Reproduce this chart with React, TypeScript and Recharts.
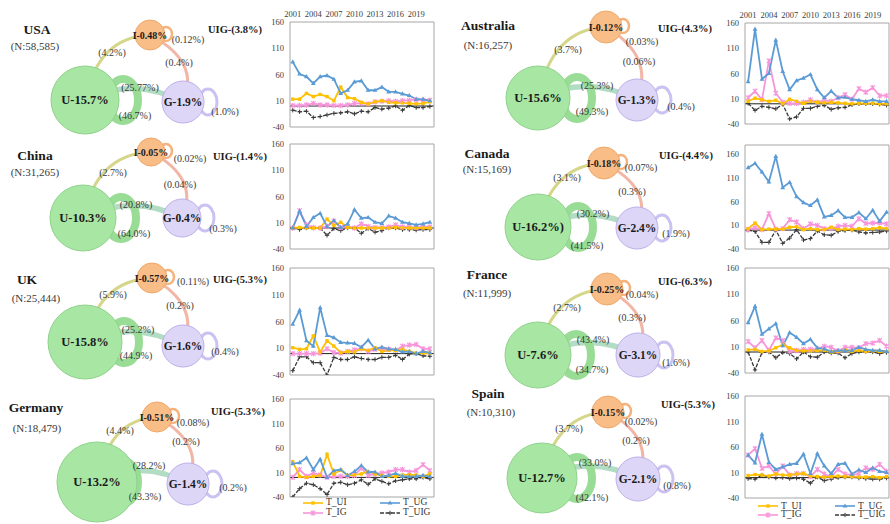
import React from "react";
import {
  LineChart,
  Line,
  XAxis,
  YAxis,
  ReferenceLine,
  Legend,
  ScatterChart,
  Scatter,
} from "recharts";

const serif = "'Liberation Serif', 'Times New Roman', serif";
const frame = "#a6a6a6";

const years = [
  2001, 2002, 2003, 2004, 2005, 2006, 2007, 2008, 2009, 2010, 2011, 2012, 2013,
  2014, 2015, 2016, 2017, 2018, 2019, 2020, 2021,
];
const yearTicks = [2001, 2004, 2007, 2010, 2013, 2016, 2019];
const valueTicks = [-40, 10, 60, 110, 160];

// network diagram values
const countries = ["USA", "China", "UK", "Germany", "Australia", "Canada", "France", "Spain"];
const sampleSizes = ["58,585", "31,265", "25,444", "18,479", "16,257", "15,169", "11,999", "10,310"];
const shareU = ["15.7%", "10.3%", "15.8%", "13.2%", "15.6%", "16.2%)", "7.6%", "12.7%"];
const shareI = ["0.48%", "0.05%", "0.57%", "0.51%", "0.12%", "0.18%", "0.25%", "0.15%"];
const shareG = ["1.9%", "0.4%", "1.6%", "1.4%", "1.3%", "2.4%", "3.1%", "2.1%"];
const shareUIG = ["3.8%", "1.4%", "5.3%", "5.3%", "4.3%", "4.4%", "6.3%", "5.3%"];
const linkUI = ["4.2%", "2.7%", "5.9%", "4.4%", "3.7%", "3.1%", "2.7%", "3.7%"];
const linkIG = ["0.4%", "0.04%", "0.2%", "0.2%", "0.06%", "0.3%", "0.3%", "0.2%"];
const linkUG = ["25.77%", "20.8%", "25.2%", "28.2%", "25.3%", "30.2%", "43.4%", "33.0%"];
const loopU = ["46.7%", "64.0%", "44.9%", "43.3%", "49.3%", "41.5%", "34.7%", "42.1%"];
const loopI = ["0.12%", "0.02%", "0.11%", "0.08%", "0.03%", "0.07%", "0.04%", "0.02%"];
const loopG = ["1.0%", "0.3%", "0.4%", "0.2%", "0.4%", "1.9%", "1.6%", "0.8%"];

// yearly series
const usaUI = [13, 13, 24, 18, 22, 18, 10, 36, 16, 14, 7, 4, 8, 10, 7, 6, 6, 5, 4, 5, 8];
const usaUG = [84, 61, 56, 43, 56, 58, 51, 24, 30, 46, 48, 30, 30, 36, 27, 27, 23, 20, 13, 13, 10];
const usaIG = [1, 1, 2, 5, 2, 2, 1, 1, 2, 5, 5, 4, 8, 9, 10, 9, 10, 11, 12, 11, 11];
const usaUIG = [-8, -11, -10, -22, -20, -17, -14, -13, -11, -15, -10, -11, -3, -6, -4, 0, -8, 1, -3, -3, -1];

const chinaUI = [0, 1, 0, 0, 0, 17, 5, 11, 1, 0, 0, 0, 0, 0, 0, 1, 0, 0, 0, 0, 0];
const chinaUG = [0, 32, 3, 20, 28, 3, 14, 1, 8, 35, 19, 20, 11, 9, 23, 19, 11, 9, 6, 8, 11];
const chinaIG = [0, 33, 6, 1, 0, 3, 13, 1, 3, 0, 8, 3, 1, 1, 2, 6, 2, 2, 1, 2, 2];
const chinaUIG = [0, -3, 0, 0, 0, -14, -1, -5, 0, 0, -10, -1, -8, -5, 0, 0, -3, -3, -4, -3, -3];

const ukUI = [11, 8, 9, 33, 3, 24, 14, 2, 4, 3, 9, 6, 11, 4, 6, 6, 8, 4, 1, 1, 1];
const ukUG = [55, 81, 24, 14, 86, 34, 30, 21, 20, 19, 12, 25, 9, 12, 9, 8, 3, 4, 0, 4, 2];
const ukIG = [0, 0, 0, 0, 1, 9, 2, 1, 4, 7, 9, 4, 8, 9, 8, 6, 14, 16, 17, 9, 9];
const ukUIG = [-32, -6, -6, -17, -17, -40, -7, -11, -11, -6, -9, -11, -11, -7, -7, -3, -11, -1, 0, -4, -5];

const germanyUI = [32, 2, 0, 2, 4, 47, 7, 15, 4, 5, 7, 12, 7, 4, 2, 2, 5, 5, 5, 2, 7];
const germanyUG = [28, 30, 40, 16, 37, 0, 14, 16, 4, 12, 24, 11, 11, 2, 4, 8, 2, 2, 2, 4, 2];
const germanyIG = [0, 16, 2, 9, 5, 0, 2, 2, 2, 4, 19, 4, 7, 9, 11, 16, 16, 11, 14, 26, 14];
const germanyUIG = [-40, -23, -12, -15, -23, -35, -12, -10, -15, -12, -5, -14, -3, -8, -13, -7, -5, -3, -3, 0, -3];

const australiaUI = [5, 11, 8, 5, 7, 0, 9, 5, 1, 5, 3, 2, 3, 2, 1, 0, 1, 1, 1, 0, 0];
const australiaUG = [44, 148, 49, 60, 126, 64, 28, 46, 51, 58, 28, 12, 25, 12, 13, 9, 7, 5, 8, 5, 5];
const australiaIG = [12, 25, 8, 85, 21, 3, 1, 1, 3, 8, 3, 7, 5, 12, 18, 9, 30, 23, 32, 16, 16];
const australiaUIG = [1, -13, -5, -7, -10, -1, -30, -26, -9, -9, -5, -3, -11, -8, -7, -2, 0, 0, 0, -1, -3];

const canadaUI = [3, 15, 1, 2, 2, 2, 6, 7, 1, 3, 1, 1, 6, 1, 2, 1, 3, 2, 3, 5, 3];
const canadaUG = [132, 141, 123, 102, 156, 90, 101, 71, 58, 52, 64, 28, 31, 41, 27, 27, 37, 24, 42, 19, 38];
const canadaIG = [1, 5, 1, 35, 2, 3, 22, 17, 3, 13, 10, 3, 3, 8, 10, 8, 24, 14, 15, 15, 13];
const canadaUIG = [0, -3, -26, -26, 0, -28, -17, 1, -21, -18, -2, -10, -11, -3, -1, 0, -4, -6, -5, -4, -2];

const franceUI = [4, 5, 1, 2, 8, 14, 8, 3, 2, 2, 3, 3, 0, 1, 4, 1, 3, 1, 2, 1, 1];
const franceUG = [56, 87, 34, 44, 54, 12, 37, 28, 16, 24, 8, 6, 1, 3, 3, 3, 9, 5, 3, 3, 1];
const franceIG = [20, 8, 22, 3, 27, 22, 1, 3, 5, 5, 6, 11, 9, 2, 9, 9, 8, 16, 17, 22, 11];
const franceUIG = [0, -34, -1, 0, -11, -1, -3, -13, 0, -9, -10, 0, -2, -2, -11, -3, 0, 1, 0, -3, -1];

const spainUI = [4, 6, 5, 3, 7, 5, 5, 7, 8, 3, 2, 1, 2, 3, 2, 2, 1, 1, 2, 0, 2];
const spainUG = [44, 29, 85, 30, 16, 21, 26, 28, 46, 8, 47, 23, 8, 26, 28, 7, 15, 10, 19, 12, 10];
const spainIG = [44, 57, 18, 23, 7, 23, 5, 8, 8, 2, 16, 7, 2, 16, 7, 5, 8, 19, 16, 26, 12];
const spainUIG = [-2, -3, 5, 1, -1, 0, -2, -1, -3, -11, 1, -6, -3, 0, 1, 1, -1, -2, -3, -3, -1];

type Kind = "square" | "triangle" | "star" | "plus";
const series: { key: string; color: string; marker: Kind; dash?: string }[] = [
  { key: "T_UI", color: "#ffc000", marker: "square" },
  { key: "T_UG", color: "#5b9bd5", marker: "triangle" },
  { key: "T_IG", color: "#f795da", marker: "star" },
  { key: "T_UIG", color: "#3a3a3a", marker: "plus", dash: "4 1.5" },
];
const drawOrder = ["T_UIG", "T_IG", "T_UI", "T_UG"];

const leftDomain: [number, number] = [2000.6, 2021.6];
const rightDomain: [number, number] = [2000.55, 2021.35];

// chart boxes (plot area in page pixels)
const panels = [
  { ui: usaUI, ug: usaUG, ig: usaIG, uig: usaUIG, x0: 290, x1: 434, top: 22, bottom: 127, yMax: 160, dom: leftDomain, years: true },
  { ui: chinaUI, ug: chinaUG, ig: chinaIG, uig: chinaUIG, x0: 290, x1: 434, top: 144, bottom: 249, yMax: 160, dom: leftDomain },
  { ui: ukUI, ug: ukUG, ig: ukIG, uig: ukUIG, x0: 290, x1: 434, top: 268, bottom: 375, yMax: 160, dom: leftDomain },
  { ui: germanyUI, ug: germanyUG, ig: germanyIG, uig: germanyUIG, x0: 290, x1: 434, top: 399, bottom: 497, yMax: 160, dom: leftDomain, legend: { dy: 1, row: 10 } },
  { ui: australiaUI, ug: australiaUG, ig: australiaIG, uig: australiaUIG, x0: 745, x1: 889, top: 23, bottom: 124, yMax: 160, dom: rightDomain, years: true },
  { ui: canadaUI, ug: canadaUG, ig: canadaIG, uig: canadaUIG, x0: 745, x1: 889, top: 145, bottom: 249, yMax: 180, dom: rightDomain },
  { ui: franceUI, ug: franceUG, ig: franceIG, uig: franceUIG, x0: 745, x1: 889, top: 268, bottom: 373, yMax: 160, dom: rightDomain },
  { ui: spainUI, ug: spainUG, ig: spainIG, uig: spainUIG, x0: 745, x1: 889, top: 396, bottom: 498, yMax: 160, dom: rightDomain, legend: { dy: 4, row: 8.5 } },
];

// diagram layout (page pixels): nodes [x, y, r], label anchors [x, y]
const layouts = [
  { t: [37, 29], n: [35, 46], u: [85, 100, 34], i: [150, 35, 15], g: [183, 102, 21], uig: [235, 29], ui: [112, 52], ig: [179, 62], ug: [140, 87], lu: [135, 115], li: [188, 39], lg: [225, 111], ring: 142 },
  { t: [35, 155], n: [35, 172], u: [83, 218, 33], i: [151, 152, 14], g: [182, 218, 19], uig: [240, 156], ui: [113, 172], ig: [180, 184], ug: [136, 204], lu: [134, 233], li: [190, 158], lg: [223, 228], ring: 140 },
  { t: [27, 279], n: [36, 298], u: [85, 342, 37], i: [152, 278, 15], g: [183, 346, 21], uig: [240, 279], ui: [113, 294], ig: [180, 305], ug: [138, 329], lu: [136, 355], li: [193, 281], lg: [225, 351], ring: 143 },
  { t: [36, 407], n: [37, 428], u: [97, 482, 40], i: [157, 417, 15], g: [188, 484, 21], uig: [238, 411], ui: [120, 430], ig: [186, 441], ug: [149, 465], lu: [145, 496], li: [193, 422], lg: [233, 487], ring: 142 },
  { t: [488, 25], n: [488, 45], u: [538, 98, 32], i: [606, 27, 16], g: [637, 100, 21], uig: [685, 28], ui: [568, 49], ig: [639, 61], ug: [597, 85], lu: [592, 111], li: [642, 41], lg: [681, 106], ring: 596 },
  { t: [487, 153], n: [487, 169], u: [538, 227, 33], i: [604, 163, 16], g: [637, 228, 21], uig: [686, 155], ui: [567, 177], ig: [632, 191], ug: [593, 213], lu: [587, 245], li: [641, 167], lg: [676, 233], ring: 597 },
  { t: [487, 274], n: [487, 293], u: [538, 355, 33], i: [607, 289, 16], g: [638, 355, 22], uig: [685, 281], ui: [567, 307], ig: [632, 317], ug: [593, 339], lu: [592, 369], li: [642, 294], lg: [676, 362], ring: 595 },
  { t: [488, 393], n: [491, 412], u: [542, 478, 35], i: [608, 412, 16], g: [638, 479, 22], uig: [688, 404], ui: [569, 428], ig: [636, 440], ug: [595, 462], lu: [592, 497], li: [641, 421], lg: [677, 485], ring: 596 },
];

const nodeStyle: Record<string, { fill: string; stroke: string; font: number }> = {
  U: { fill: "#a8e6a4", stroke: "#8fd28b", font: 12.5 },
  I: { fill: "#f9bd88", stroke: "#f0a868", font: 10 },
  G: { fill: "#ddd6f6", stroke: "#bdb0ea", font: 11.5 },
};

const edgeData: any[] = [];
const ringData: any[] = [];
const nodeData: any[] = [];
const textData: any[] = [];

layouts.forEach((L, k) => {
  const [ux, uy, ur] = L.u;
  const [ix, iy, ir] = L.i;
  const [gx, gy, gr] = L.g;
  edgeData.push(
    { x: ux, y: uy, x2: ix, y2: iy, qx: ux + 0.2 * (ix - ux), qy: iy + 2, color: "#d6d68a", w: 3 },
    { x: ix, y: iy, x2: gx, y2: gy, qx: gx + 18, qy: iy + 0.4 * (gy - iy), color: "#f2b6a6", w: 3 },
    { x: ux, y: uy, x2: gx, y2: gy, qx: (ux + gx) / 2, qy: (uy + gy) / 2 - 25, color: "#b2dcc4", w: 5.5 }
  );
  ringData.push(
    { x: L.ring - 19, y: uy, rx: 15, ry: 21, color: "#98dc95", w: 8 },
    { x: gx + gr + 4, y: gy, rx: 9, ry: 13, color: "#cbc2f2", w: 3 },
    { x: ix + ir + 1, y: iy - 1, rx: 6, ry: 7, color: "#f6b27c", w: 2.5 }
  );
  nodeData.push(
    { x: ux, y: uy, r: ur, kind: "U", label: `U-${shareU[k]}` },
    { x: gx, y: gy, r: gr, kind: "G", label: `G-${shareG[k]}` },
    { x: ix, y: iy, r: ir, kind: "I", label: `I-${shareI[k]}` }
  );
  const t = (p: number[], text: string, size: number, bold = false) =>
    textData.push({ x: p[0], y: p[1], text, size, bold });
  t(L.t, countries[k], 13.5, true);
  t(L.n, `(N:${sampleSizes[k]})`, 11);
  t(L.uig, `UIG-(${shareUIG[k]})`, 10.5, true);
  t(L.ui, `(${linkUI[k]})`, 10);
  t(L.ig, `(${linkIG[k]})`, 10);
  t(L.ug, `(${linkUG[k]})`, 10);
  t(L.lu, `(${loopU[k]})`, 10);
  t(L.li, `(${loopI[k]})`, 10);
  t(L.lg, `(${loopG[k]})`, 10);
});

const EdgeShape = (props: any) => {
  const { cx, cy, payload: d } = props;
  const ex = cx + (d.x2 - d.x);
  const ey = cy + (d.y2 - d.y);
  const qx = cx + (d.qx - d.x);
  const qy = cy + (d.qy - d.y);
  return <path d={`M${cx},${cy}Q${qx},${qy} ${ex},${ey}`} fill="none" stroke={d.color} strokeWidth={d.w} />;
};

const RingShape = (props: any) => {
  const { cx, cy, payload: d } = props;
  return <ellipse cx={cx} cy={cy} rx={d.rx} ry={d.ry} fill="none" stroke={d.color} strokeWidth={d.w} />;
};

const NodeShape = (props: any) => {
  const { cx, cy, payload: d } = props;
  const s = nodeStyle[d.kind];
  return (
    <g>
      <circle cx={cx} cy={cy} r={d.r} fill={s.fill} stroke={s.stroke} strokeWidth={1} />
      <text x={cx} y={cy} textAnchor="middle" dominantBaseline="central" fontFamily={serif} fontWeight="bold" fontSize={s.font} fill="#1a1a1a">
        {d.label}
      </text>
    </g>
  );
};

const TextShape = (props: any) => {
  const { cx, cy, payload: d } = props;
  return (
    <text x={cx} y={cy} textAnchor="middle" dominantBaseline="central" fontFamily={serif} fontWeight={d.bold ? "bold" : "normal"} fontSize={d.size} fill={d.bold ? "#1a1a1a" : "#3a3a3a"}>
      {d.text}
    </text>
  );
};

function Marker({ kind, x, y, color }: { kind: Kind; x: number; y: number; color: string }) {
  if (kind === "square") return <rect x={x - 1.7} y={y - 1.7} width={3.4} height={3.4} fill={color} />;
  if (kind === "triangle") return <path d={`M${x},${y - 2.6}L${x + 2.4},${y + 1.6}L${x - 2.4},${y + 1.6}Z`} fill={color} />;
  if (kind === "star")
    return (
      <path
        d={`M${x - 2.2},${y - 2.2}L${x + 2.2},${y + 2.2}M${x + 2.2},${y - 2.2}L${x - 2.2},${y + 2.2}M${x},${y - 2.7}L${x},${y + 2.7}`}
        stroke={color}
        strokeWidth={1.1}
      />
    );
  return <path d={`M${x - 2.2},${y}L${x + 2.2},${y}M${x},${y - 2.2}L${x},${y + 2.2}`} stroke={color} strokeWidth={1} />;
}

function LegendGrid({ row }: { row: number }) {
  return (
    <div style={{ display: "grid", gridTemplateColumns: "77px 77px", fontFamily: serif, fontSize: 9.5, color: "#333" }}>
      {series.map((s) => (
        <div key={s.key} style={{ display: "flex", alignItems: "center", height: row }}>
          <svg width={22} height={8} style={{ overflow: "visible" }}>
            <line x1={1} y1={4} x2={21} y2={4} stroke={s.color} strokeWidth={1.6} strokeDasharray={s.dash} />
            <Marker kind={s.marker} x={11} y={4} color={s.color} />
          </svg>
          <span style={{ marginLeft: 2, lineHeight: 1 }}>{s.key}</span>
        </div>
      ))}
    </div>
  );
}

const tickStyle = { fontSize: 8.5, fill: "#404040", fontFamily: serif };

function TrendChart({ p }: { p: any }) {
  const data = years.map((year, i) => ({
    year,
    T_UI: p.ui[i],
    T_UG: p.ug[i],
    T_IG: p.ig[i],
    T_UIG: p.uig[i],
  }));
  const extra = p.legend ? 26 : 7;
  const width = p.x1 - p.x0 + 31;
  const height = p.bottom - p.top + 21 + extra;
  return (
    <div style={{ position: "absolute", left: p.x0 - 30, top: p.top - 20 }}>
      <LineChart width={width} height={height} data={data} margin={{ top: 0, right: 0, bottom: extra, left: 0 }}>
        <XAxis
          xAxisId="t"
          orientation="top"
          type="number"
          dataKey="year"
          domain={p.dom}
          ticks={yearTicks}
          interval={0}
          height={20}
          tickSize={0}
          tickMargin={5}
          tickLine={false}
          tick={p.years ? tickStyle : false}
          axisLine={{ stroke: frame }}
          allowDataOverflow
        />
        <XAxis
          xAxisId="b"
          type="number"
          dataKey="year"
          domain={p.dom}
          height={1}
          tick={false}
          tickLine={false}
          axisLine={{ stroke: frame }}
          allowDataOverflow
        />
        <YAxis
          yAxisId="l"
          type="number"
          domain={[-40, p.yMax]}
          ticks={valueTicks}
          interval={0}
          width={30}
          tickSize={0}
          tickMargin={6}
          tickLine={false}
          tick={tickStyle}
          axisLine={{ stroke: frame }}
          allowDataOverflow
        />
        <YAxis
          yAxisId="r"
          orientation="right"
          type="number"
          domain={[-40, p.yMax]}
          width={1}
          tick={false}
          tickLine={false}
          axisLine={{ stroke: frame }}
          allowDataOverflow
        />
        <ReferenceLine xAxisId="b" yAxisId="l" y={0} stroke="#1f1f1f" strokeWidth={1} />
        {drawOrder.map((key) => {
          const s = series.find((v) => v.key === key)!;
          return (
            <Line
              key={key}
              xAxisId="b"
              yAxisId="l"
              type="linear"
              dataKey={key}
              name={key}
              stroke={s.color}
              strokeWidth={key === "T_UIG" ? 1.3 : 1.8}
              strokeDasharray={s.dash}
              dot={(d: any) => <Marker key={`${key}-${d.index}`} kind={s.marker} x={d.cx} y={d.cy} color={s.color} />}
              activeDot={false}
              isAnimationActive={false}
            />
          );
        })}
        {p.legend && (
          <Legend
            layout="horizontal"
            verticalAlign="middle"
            align="center"
            wrapperStyle={{ left: 42, top: p.bottom - p.top + 20 + p.legend.dy, width: 160 }}
            content={() => <LegendGrid row={p.legend.row} />}
          />
        )}
      </LineChart>
    </div>
  );
}

function Diagrams() {
  return (
    <div style={{ position: "absolute", left: 0, top: 0 }}>
      <ScatterChart width={890} height={524} margin={{ top: 0, right: 0, bottom: 0, left: 0 }}>
        <XAxis type="number" dataKey="x" domain={[0, 890]} hide allowDataOverflow />
        <YAxis type="number" dataKey="y" domain={[0, 524]} reversed hide allowDataOverflow />
        <Scatter data={edgeData} shape={EdgeShape} isAnimationActive={false} />
        <Scatter data={ringData} shape={RingShape} isAnimationActive={false} />
        <Scatter data={nodeData} shape={NodeShape} isAnimationActive={false} />
        <Scatter data={textData} shape={TextShape} isAnimationActive={false} />
      </ScatterChart>
    </div>
  );
}

export default function App() {
  return (
    <div style={{ position: "absolute", left: 0, top: 0, width: 890, height: 524, background: "#fff", overflow: "hidden" }}>
      <Diagrams />
      {panels.map((p, k) => (
        <TrendChart key={k} p={p} />
      ))}
    </div>
  );
}
